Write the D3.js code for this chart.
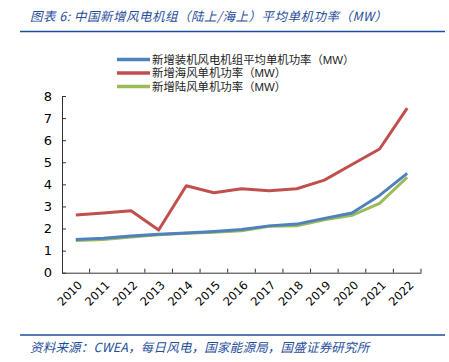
<!DOCTYPE html>
<html>
<head>
<meta charset="utf-8">
<script src="https://cdn.jsdelivr.net/npm/d3@7"></script>
<style>
body { margin: 0; background: #fff; }
text { font-family: "Noto Sans CJK SC", "DejaVu Sans", sans-serif; }
.num { font-family: "DejaVu Sans", sans-serif; }
.leg { font-family: "Liberation Sans", "Noto Sans CJK SC", sans-serif; }
</style>
</head>
<body>
<div class="chart"></div>
<script>
const years = ['2010','2011','2012','2013','2014','2015','2016','2017','2018','2019','2020','2021','2022'];
const avgAll = [1.5, 1.56, 1.66, 1.74, 1.8, 1.87, 1.96, 2.12, 2.2, 2.46, 2.7, 3.5, 4.5];
const offshore = [2.61, 2.7, 2.8, 1.93, 3.94, 3.62, 3.8, 3.71, 3.8, 4.19, 4.9, 5.6, 7.45];
const onshore = [1.46, 1.5, 1.62, 1.72, 1.79, 1.83, 1.9, 2.1, 2.12, 2.4, 2.6, 3.14, 4.32];
const yTicks = [0, 1, 2, 3, 4, 5, 6, 7, 8];
const seriesNames = ['新增装机风电机组平均单机功率（MW）', '新增海风单机功率（MW）', '新增陆风单机功率（MW）'];

const colors = ['#4F81BD', '#C0504D', '#9BBB59'];
const blue = '#1F4E9A';

const W = 449, H = 362;
const margin = {top: 96, left: 62, bottom: 90, right: 28};
const width = 421 - margin.left;
const height = 272.7 - margin.top;

const root = d3.select('.chart').append('svg')
    .attr('width', W)
    .attr('height', H);

// title + rules
root.append('text')
    .attr('x', 30).attr('y', 21)
    .attr('font-size', 12.5)
    .attr('font-style', 'italic')
    .attr('letter-spacing', 0.5)
    .attr('fill', blue)
    .text('图表 6:  中国新增风电机组（陆上/海上）平均单机功率（MW）');
root.append('line')
    .attr('x1', 20).attr('x2', 445).attr('y1', 31.5).attr('y2', 31.5)
    .attr('stroke', blue).attr('stroke-width', 1.5);
root.append('line')
    .attr('x1', 20).attr('x2', 445).attr('y1', 335).attr('y2', 335)
    .attr('stroke', blue).attr('stroke-width', 1.5);
root.append('text')
    .attr('x', 30).attr('y', 352)
    .attr('font-size', 12.5)
    .attr('font-style', 'italic')
    .attr('letter-spacing', 0.2)
    .attr('fill', blue)
    .text('资料来源：CWEA，每日风电，国家能源局，国盛证券研究所');

const svg = root.append('g')
    .attr('transform', 'translate(' + margin.left + ',' + margin.top + ')');

const xScale = d3.scaleBand()
    .domain(years)
    .range([0, width]);

const yScale = d3.scaleLinear()
    .domain([0, 8])
    .range([height, 0]);

const xAxis = d3.axisBottom(xScale)
    .tickSizeInner(0)
    .tickSizeOuter(0);

const yAxis = d3.axisLeft(yScale)
    .tickValues(yTicks)
    .tickSizeInner(-4)
    .tickSizeOuter(0)
    .tickPadding(10);

// x axis
const gx = svg.append('g')
    .attr('class', 'x-axis')
    .attr('transform', 'translate(0,' + height + ')')
    .call(xAxis);
gx.select('.domain').attr('stroke', '#333');
gx.selectAll('.tick text')
    .attr('class', 'num')
    .attr('font-size', 11.5)
    .attr('fill', '#000')
    .attr('text-anchor', 'end')
    .attr('dx', 0)
    .attr('dy', 0)
    .attr('transform', 'translate(5,11) rotate(-45)');
// inward boundary ticks between categories
svg.append('g').selectAll('line')
    .data(years.slice(1).concat(['end']))
    .join('line')
    .attr('x1', (d, i) => xScale.step() * (i + 1))
    .attr('x2', (d, i) => xScale.step() * (i + 1))
    .attr('y1', height).attr('y2', height - 4)
    .attr('stroke', '#333');

// y axis
const gy = svg.append('g')
    .attr('class', 'y-axis')
    .call(yAxis);
gy.select('.domain').attr('stroke', '#333');
gy.selectAll('.tick line').attr('stroke', '#333');
gy.selectAll('.tick text')
    .attr('class', 'num')
    .attr('font-size', 13)
    .attr('fill', '#000');

// lines
const line = d3.line()
    .x((d, i) => xScale(years[i]) + xScale.bandwidth() / 2)
    .y(d => yScale(d));

// draw green under blue where they overlap, red on top
const order = [2, 0, 1];
const allSeries = [avgAll, offshore, onshore];
order.forEach(k => {
    svg.append('path')
        .datum(allSeries[k])
        .attr('fill', 'none')
        .attr('stroke', colors[k])
        .attr('stroke-width', 3)
        .attr('stroke-linejoin', 'round')
        .attr('d', line);
});

// legend
const legend = root.append('g');
seriesNames.forEach((name, i) => {
    const y = 59.5 + i * 13.5;
    legend.append('line')
        .attr('x1', 117).attr('x2', 150)
        .attr('y1', y).attr('y2', y)
        .attr('stroke', colors[i])
        .attr('stroke-width', 3.5);
    legend.append('text')
        .attr('class', 'leg')
        .attr('x', 152).attr('y', y + 4.2)
        .attr('font-size', 11.4)
        .attr('fill', '#222')
        .text(name);
});
</script>
</body>
</html>
